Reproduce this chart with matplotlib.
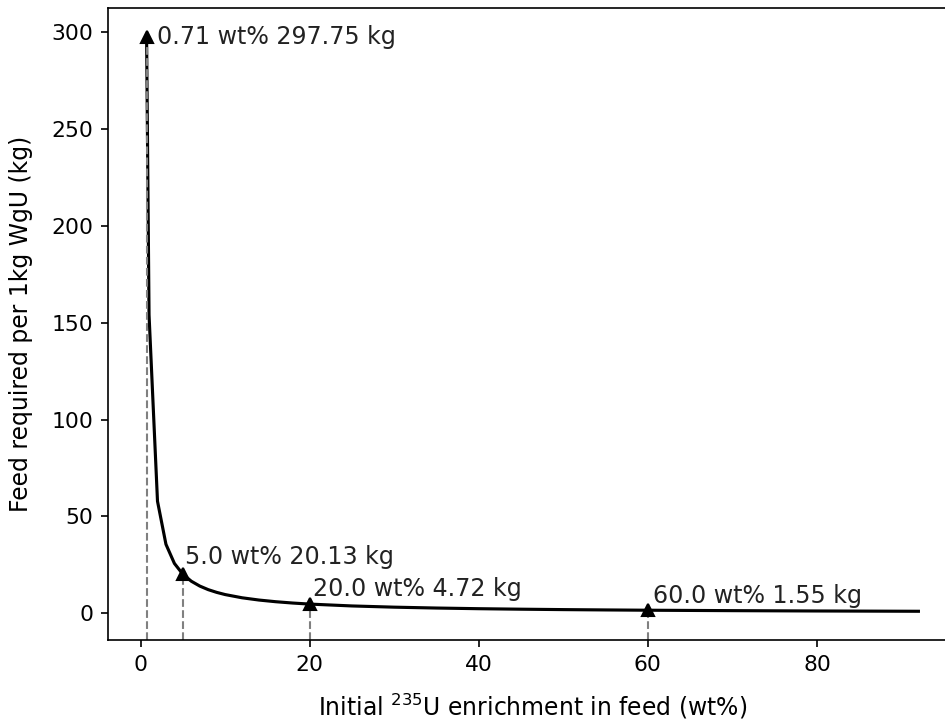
import matplotlib
matplotlib.use("Agg")
import matplotlib.pyplot as plt

# feed enrichment (wt% U-235) and feed mass needed per 1 kg of weapons-grade U
enrichment = [0.71, 1, 2, 3, 4, 5, 6, 7, 8, 9, 10, 12, 14, 16, 18, 20,
              25, 30, 35, 40, 45, 50, 55, 60, 70, 80, 92]
feed_kg = [297.75, 154.1, 57.84, 35.60, 25.72, 20.13, 16.53, 14.03, 12.18,
           10.77, 9.64, 7.98, 6.81, 5.94, 5.26, 4.72, 3.76, 3.13, 2.68, 2.34,
           2.08, 1.87, 1.70, 1.55, 1.33, 1.16, 1.01]

# highlighted points
mark_x = [0.71, 5.0, 20.0, 60.0]
mark_y = [297.75, 20.13, 4.72, 1.55]
label_offsets = [(5, -3.5), (1, 5), (1.5, 4), (2.5, 3.5)]

plt.rcParams["font.size"] = 10.5

fig = plt.figure(figsize=(6.3, 724 / 150), dpi=150)
ax = fig.add_axes([108 / 945, 84 / 724, 849 / 945, 632 / 724])

ax.plot(enrichment, feed_kg, color="black", lw=1.5)
ylim = ax.get_ylim()
ax.vlines(mark_x, ylim[0], mark_y, colors="gray", linestyles="--", lw=1)
ax.plot(mark_x, mark_y, "^", color="black", markersize=6)
ax.set_ylim(ylim)

for x, y, off in zip(mark_x, mark_y, label_offsets):
    ax.annotate(f"{x} wt% {y} kg", (x, y), xytext=off, textcoords="offset points",
                fontsize=11.4, ha="left", va="baseline", color="#222222")

ax.spines["right"].set_visible(False)
ax.tick_params(labelsize=10.5)
ax.set_xlabel("Initial $^{235}$U enrichment in feed (wt%)", fontsize=11.3, labelpad=8)
ax.set_ylabel("Feed required per 1kg WgU (kg)", fontsize=11.3, labelpad=9)

fig.savefig("out.png", dpi=150)
